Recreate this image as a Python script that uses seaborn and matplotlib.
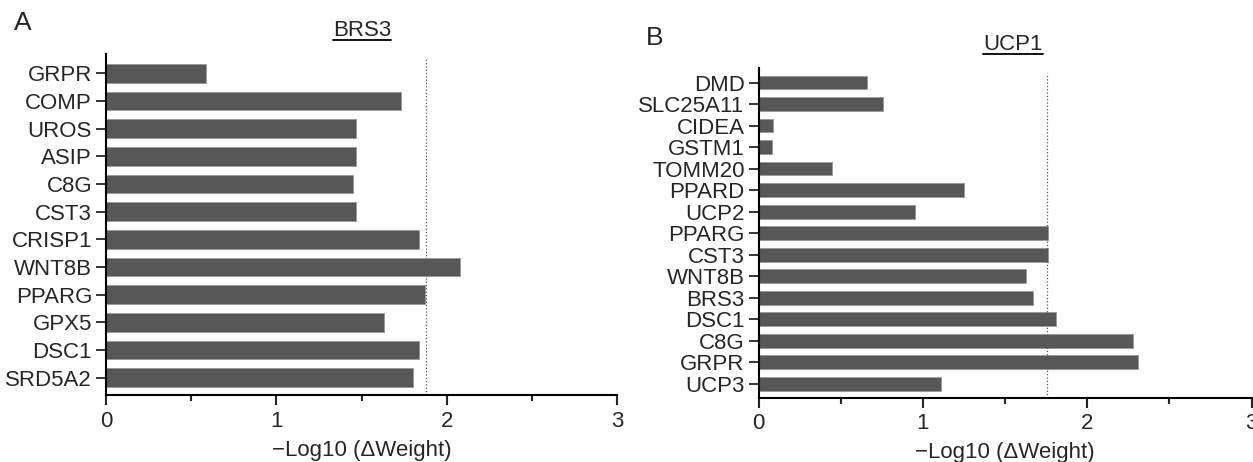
import matplotlib
matplotlib.use('Agg')
import matplotlib.pyplot as plt
from matplotlib.lines import Line2D
import seaborn as sns

# dane
genes_a = ['GRPR', 'COMP', 'UROS', 'ASIP', 'C8G', 'CST3', 'CRISP1',
           'WNT8B', 'PPARG', 'GPX5', 'DSC1', 'SRD5A2']
values_a = [0.59, 1.73, 1.47, 1.47, 1.45, 1.47, 1.84, 2.08, 1.875, 1.63, 1.84, 1.80]
cutoff_a = 1.88

genes_b = ['DMD', 'SLC25A11', 'CIDEA', 'GSTM1', 'TOMM20', 'PPARD', 'UCP2',
           'PPARG', 'CST3', 'WNT8B', 'BRS3', 'DSC1', 'C8G', 'GRPR', 'UCP3']
values_b = [0.66, 0.76, 0.09, 0.08, 0.45, 1.25, 0.95, 1.76, 1.76, 1.63, 1.67,
            1.81, 2.28, 2.31, 1.11]
cutoff_b = 1.757

titles = ['BRS3', 'UCP1']
panel_letters = ['A', 'B']
xticks = [0, 1, 2, 3]
xlabel = '\u2212Log10 (\u0394Weight)'

sns.set_style('ticks')
plt.rcParams['font.family'] = ['Liberation Sans', 'DejaVu Sans']
plt.rcParams['font.size'] = 16

W, H = 1253, 462
fig = plt.figure(figsize=(W / 100, H / 100), dpi=100)
# pozycje osi w pikselach: lewo, prawo, gora, dol
axA = fig.add_axes([106 / W, 1 - 395 / H, (617 - 106) / W, (395 - 54) / H])
axB = fig.add_axes([758.5 / W, 1 - 397.5 / H, (1251.5 - 758.5) / W, (397.5 - 67.7) / H])

panels = [(axA, genes_a, values_a, cutoff_a, 0.67, 0.70, 0.63),
          (axB, genes_b, values_b, cutoff_b, 0.64, 0.69, 0.64)]

for ax, genes, vals, cut, bw, top, bot in panels:
    sns.barplot(x=vals, y=genes, orient='h', color='#575757', width=bw,
                edgecolor='#999999', linewidth=0.6, saturation=1, ax=ax)
    n = len(genes)
    ax.set_ylim(n - 1 + bot, -top)
    ax.set_xlim(0, 3)
    ax.set_xticks(xticks)
    ax.set_xticks([0.5, 1.5, 2.5], minor=True)
    ax.axvline(cut, ymin=0, ymax=0.984, color='#555555', lw=0.9, ls=':')
    ax.set_xlabel(xlabel, fontsize=16, labelpad=6)
    ax.set_ylabel('')
    for s in ['top', 'right']:
        ax.spines[s].set_visible(False)
    for s in ['left', 'bottom']:
        ax.spines[s].set_linewidth(1.5)
        ax.spines[s].set_color('black')
    ax.tick_params(axis='x', which='major', length=7.2, width=1.5, pad=4, labelsize=16)
    ax.tick_params(axis='x', which='minor', length=4.3, width=1.5)
    ax.tick_params(axis='y', length=7, width=1.3, pad=3, labelsize=16)

# tytuly podkreslone - tekst + linia pod spodem
title_pos = [(362, 30), (1013, 44)]
t_objs = []
for t, (px, py) in zip(titles, title_pos):
    t_objs.append(fig.text(px / W, 1 - py / H, t, fontsize=16, ha='center', va='center'))

fig.canvas.draw()
r = fig.canvas.get_renderer()
for t in t_objs:
    bb = t.get_window_extent(r)
    y = (bb.y0 + 1) / H
    fig.add_artist(Line2D([bb.x0 / W, bb.x1 / W], [y, y], color='black', lw=1.3,
                          transform=fig.transFigure))

fig.text(14 / W, 1 - 23 / H, panel_letters[0], fontsize=19, va='center', ha='left')
fig.text(646 / W, 1 - 38 / H, panel_letters[1], fontsize=19, va='center', ha='left')

fig.savefig('out.png', dpi=100)
